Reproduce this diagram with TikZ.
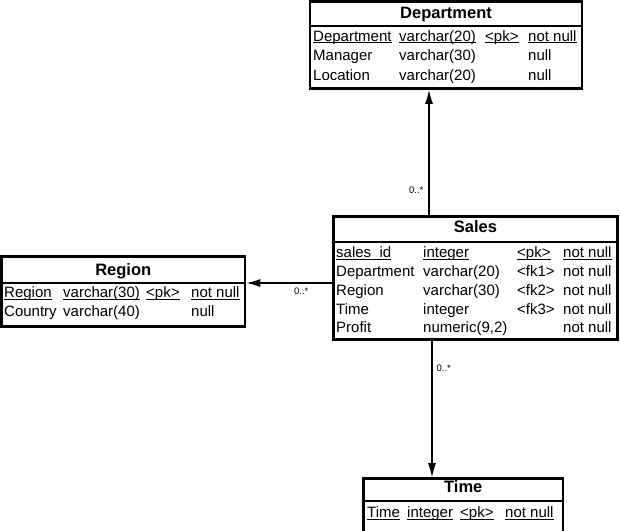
\documentclass[tikz,border=0pt]{standalone}
\usepackage{fontspec}
\setmainfont{Liberation Sans}
\usetikzlibrary{arrows.meta}
\newcommand{\ul}[1]{\underline{\smash{#1}}}
\tikzset{
  tbl/.style={draw, line width=2.6pt, inner sep=0pt},
  ttl/.style={anchor=base, inner sep=0pt, font=\fontsize{16.5}{18}\selectfont\bfseries},
  cell/.style={anchor=base west, inner sep=0pt, font=\fontsize{15}{18}\selectfont},
  mult/.style={inner sep=0pt, font=\fontsize{9.5}{10}\selectfont},
  rel/.style={->, line width=1.3pt},
  sep/.style={line width=2pt}
}
\begin{document}
\begin{tikzpicture}[>={Latex[length=14pt,width=8pt]}, x=1pt, y=-1pt]
\clip (0,0) rectangle (620,530);
% Department
\node[tbl, minimum width=272, minimum height=87] (dep) at (446,45) {};
\node[ttl] (dep-t) at (446,18.5) {Department};
\draw[sep] (dep.west |- 0,26) -- (dep.east |- 0,26);
\foreach \y/\a/\b/\c/\d [count=\i] in {41/\ul{Department}/\ul{varchar(20)}/\ul{<pk>}/\ul{not null},
    60.5/Manager/varchar(30)//null, 80/Location/varchar(20)//null}
{
    \node[cell] (dep-\i-1) at (313,\y) {\a};
    \node[cell] (dep-\i-2) at (399,\y) {\b};
    \node[cell] (dep-\i-3) at (485,\y) {\c};
    \node[cell] (dep-\i-4) at (528,\y) {\d};
}
% Sales
\node[tbl, minimum width=284, minimum height=123] (sales) at (475.5,278) {};
\node[ttl] (sales-t) at (475.5,232) {Sales};
\draw[sep] (sales.west |- 0,241.5) -- (sales.east |- 0,241.5);
\foreach \y/\a/\b/\c/\d [count=\i] in {257.5/\ul{sales\_id}/\ul{integer}/\ul{<pk>}/\ul{not null},
    276.5/Department/varchar(20)/<fk1>/not null, 295/Region/varchar(30)/<fk2>/not null,
    314/Time/integer/<fk3>/not null, 332.5/Profit/{numeric(9,2)}//not null}
{
    \node[cell] (sales-\i-1) at (336,\y) {\a};
    \node[cell] (sales-\i-2) at (423,\y) {\b};
    \node[cell] (sales-\i-3) at (517,\y) {\c};
    \node[cell] (sales-\i-4) at (563,\y) {\d};
}
% Region
\node[tbl, minimum width=243.5, minimum height=70] (reg) at (123.25,291.5) {};
\node[ttl] (reg-t) at (123.25,275) {Region};
\draw[sep] (reg.west |- 0,283) -- (reg.east |- 0,283);
\foreach \y/\a/\b/\c/\d [count=\i] in {297.5/\ul{Region}/\ul{varchar(30)}/\ul{<pk>}/\ul{not null},
    316/Country/varchar(40)//null}
{
    \node[cell] (reg-\i-1) at (4,\y) {\a};
    \node[cell] (reg-\i-2) at (63,\y) {\b};
    \node[cell] (reg-\i-3) at (146,\y) {\c};
    \node[cell] (reg-\i-4) at (191,\y) {\d};
}
% Time
\node[tbl, minimum width=199.5, minimum height=57.5] (time) at (463.25,507.25) {};
\node[ttl] (time-t) at (463.25,492) {Time};
\draw[sep] (time.west |- 0,501) -- (time.east |- 0,501);
\node[cell] (time-1-1) at (367,517.5) {\ul{Time}};
\node[cell] (time-1-2) at (407,517.5) {\ul{integer}};
\node[cell] (time-1-3) at (460,517.5) {\ul{<pk>}};
\node[cell] (time-1-4) at (505,517.5) {\ul{not null}};
% references
\coordinate (dx) at (429,0);
\coordinate (ry) at (0,283);
\coordinate (tx) at (432,0);
\draw[rel] (sales.north -| dx) -- (dep.south -| dx) node[mult, pos=.2, left=5pt] (m1) {0..*};
\draw[rel] (sales.west |- ry) -- (reg.east |- ry) node[mult, pos=.36, below=4pt] (m2) {0..*};
\draw[rel] (sales.south -| tx) -- (time.north -| tx) node[mult, pos=.2, right=4pt] (m3) {0..*};
\end{tikzpicture}
\end{document}
